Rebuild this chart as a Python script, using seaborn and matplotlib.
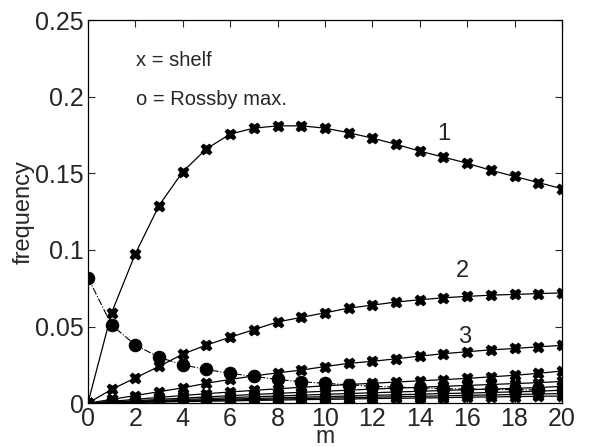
import numpy as np
import pandas as pd
import seaborn as sns
import matplotlib
matplotlib.use("Agg")
import matplotlib.pyplot as plt

m = list(range(21))

mode1 = [0, 0.059, 0.0975, 0.129, 0.151, 0.166, 0.1756, 0.1795, 0.181, 0.181, 0.1795,
         0.1765, 0.173, 0.169, 0.1645, 0.1606, 0.1566, 0.152, 0.148, 0.144, 0.140]
mode2 = [0, 0.009, 0.0165, 0.024, 0.032, 0.038, 0.043, 0.048, 0.053, 0.056, 0.059,
         0.062, 0.064, 0.066, 0.0675, 0.0688, 0.0697, 0.0705, 0.071, 0.0715, 0.072]
mode3 = [0, 0.0025, 0.005, 0.0075, 0.010, 0.013, 0.0155, 0.0178, 0.0198, 0.0216, 0.0239,
         0.026, 0.0273, 0.029, 0.0307, 0.0323, 0.0336, 0.0348, 0.0357, 0.0368, 0.0377]
mode4 = [0, 0.0012, 0.0025, 0.0038, 0.005, 0.0062, 0.0073, 0.0084, 0.0094, 0.0104, 0.0113,
         0.0122, 0.013, 0.0138, 0.0146, 0.0154, 0.0162, 0.0172, 0.0182, 0.0195, 0.0210]
mode5 = [0, 0.0008, 0.0016, 0.0025, 0.0033, 0.0041, 0.0049, 0.0057, 0.0064, 0.0071, 0.0078,
         0.0085, 0.0092, 0.0098, 0.0104, 0.011, 0.0116, 0.0122, 0.0128, 0.0134, 0.0142]
mode6 = [0, 0.0006, 0.0012, 0.0018, 0.0024, 0.003, 0.0036, 0.0042, 0.0047, 0.0052, 0.0058,
         0.0063, 0.0068, 0.0073, 0.0078, 0.0083, 0.0088, 0.0092, 0.0097, 0.0102, 0.0110]
mode7 = [0, 0.0004, 0.0009, 0.0013, 0.0018, 0.0022, 0.0027, 0.0031, 0.0035, 0.0039, 0.0043,
         0.0047, 0.0051, 0.0055, 0.0059, 0.0063, 0.0066, 0.007, 0.0074, 0.0078, 0.0085]
mode8 = [0, 0.0003, 0.0007, 0.001, 0.0014, 0.0017, 0.0021, 0.0024, 0.0027, 0.003, 0.0033,
         0.0036, 0.0039, 0.0042, 0.0045, 0.0048, 0.0051, 0.0054, 0.0057, 0.006, 0.0063]
mode9 = [0, 0.0002, 0.0005, 0.0008, 0.001, 0.0013, 0.0015, 0.0018, 0.002, 0.0023, 0.0025,
         0.0027, 0.003, 0.0032, 0.0034, 0.0036, 0.0039, 0.0041, 0.0043, 0.0045, 0.0047]
shelf_modes = [mode1, mode2, mode3, mode4, mode5, mode6, mode7, mode8, mode9]

m_rossby = list(range(20))
rossby = [0.082, 0.051, 0.038, 0.030, 0.025, 0.022, 0.0195, 0.0175, 0.0155, 0.014, 0.013,
          0.012, 0.011, 0.0105, 0.010, 0.0095, 0.0092, 0.009, 0.0088, 0.0087]

mode_labels = ["1", "2", "3"]
label_pos = [(15.0, 0.176), (15.8, 0.086), (15.9, 0.043)]

yticks = [0, 0.05, 0.1, 0.15, 0.2, 0.25]
ytick_labels = ["0", "0.05", "0.1", "0.15", "0.2", "0.25"]
xticks = list(range(0, 21, 2))

sns.set_style("ticks")
plt.rcParams["font.family"] = ["Liberation Sans", "DejaVu Sans"]

fig = plt.figure(figsize=(5.94, 4.47), dpi=100)
ax = fig.add_axes([0.148, 0.098, 0.798, 0.857])

for vals in shelf_modes:
    sns.lineplot(x=m, y=vals, ax=ax, color="k", lw=0.9, marker="X", markersize=7.5,
                 markeredgecolor="k", markeredgewidth=1.0, markerfacecolor="k", zorder=3)

sns.lineplot(x=m_rossby, y=rossby, ax=ax, color="k", lw=0.8, linestyle="-.",
             marker="o", markersize=9, markerfacecolor="k", markeredgecolor="k", zorder=4)

for lab, (lx, ly) in zip(mode_labels, label_pos):
    ax.text(lx, ly, lab, fontsize=17, ha="center", va="center")

ax.text(2.05, 0.2235, "x = shelf", fontsize=14.5, ha="left", va="center")
ax.text(2.05, 0.1985, "o = Rossby max.", fontsize=14.5, ha="left", va="center")

ax.set_xlim(0, 20)
ax.set_ylim(0, 0.25)
ax.set_xticks(xticks)
ax.set_xticklabels([str(t) for t in xticks])
ax.set_yticks(yticks)
ax.set_yticklabels(ytick_labels)
ax.tick_params(direction="in", top=True, right=True, labelsize=18, length=5, width=0.8, pad=3)
ax.tick_params(axis="x", pad=2.5)
for s in ax.spines.values():
    s.set_linewidth(0.9)
    s.set_color("k")
ax.set_xlabel("m", fontsize=16.5)
ax.xaxis.set_label_coords(0.5, -0.1045)
ax.xaxis.label.set_va("baseline")
ax.set_ylabel("frequency", fontsize=17, labelpad=0)

fig.savefig("out.png", dpi=100)
